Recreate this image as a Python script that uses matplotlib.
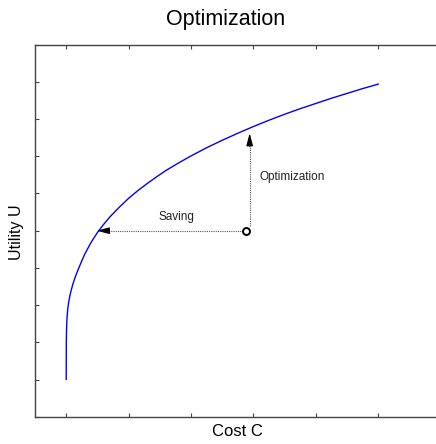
import matplotlib
matplotlib.use("Agg")
import matplotlib.pyplot as plt

plt.rcParams['font.family'] = ['Liberation Sans', 'DejaVu Sans']

# Curve data
cost = [0.0, 0.002, 0.005, 0.01, 0.015, 0.025, 0.04, 0.06, 0.08, 0.11, 0.15,
        0.2, 0.25, 0.3, 0.4, 0.5, 0.6, 0.7, 0.85, 1.0, 1.15, 1.3, 1.45, 1.6,
        1.8, 2.0, 2.25, 2.5, 2.75, 3.0, 3.25, 3.5, 3.75, 4.0, 4.25, 4.5, 4.75, 5.0]
utility = [1.0, 2.0, 2.3, 2.55, 2.7, 2.9, 3.08, 3.26, 3.40, 3.58, 3.78,
           3.99, 4.19, 4.38, 4.69, 4.95, 5.17, 5.37, 5.63, 5.87, 6.08, 6.27, 6.45, 6.62,
           6.82, 7.01, 7.23, 7.43, 7.62, 7.80, 7.97, 8.13, 8.28, 8.42, 8.56, 8.69, 8.82, 8.94]

# Current point and arrow targets
point_c, point_u = 2.9, 5.0
saving_tip_c = 0.49
optim_tip_u = 7.62

x_ticks = [0, 1, 2, 3, 4, 5]
y_ticks = [0, 1, 2, 3, 4, 5, 6, 7, 8, 9, 10]

W, H = 436, 444
fig = plt.figure(figsize=(W / 100, H / 100), dpi=100)
ax = fig.add_axes([35 / W, (H - 416.7) / H, (W - 35) / W, 372 / H])

ax.plot(cost, utility, color='#0000ff', lw=1.0)

# dotted arrow shafts
ax.plot([point_c - 0.07, saving_tip_c + 0.1], [point_u, point_u], color='#555555',
        lw=0.8, ls=(0, (1, 1)))
ax.plot([point_c + 0.04, point_c + 0.04], [point_u + 0.12, optim_tip_u - 0.3],
        color='#555555', lw=0.8, ls=(0, (1, 1)))
# arrowheads
ax.annotate('', xy=(saving_tip_c, point_u), xytext=(saving_tip_c + 0.2, point_u),
            arrowprops=dict(arrowstyle='-|>,head_length=0.75,head_width=0.2',
                            color='black', lw=0.8, shrinkA=0, shrinkB=0))
ax.annotate('', xy=(point_c + 0.04, optim_tip_u), xytext=(point_c + 0.04, optim_tip_u - 0.35),
            arrowprops=dict(arrowstyle='-|>,head_length=0.75,head_width=0.2',
                            color='black', lw=0.8, shrinkA=0, shrinkB=0))
ax.plot([point_c - 0.02], [point_u], marker='o', ms=5, mfc='white', mec='black', mew=1.4)

ax.text(1.76, 5.37, 'Saving', fontsize=8.5, ha='center', va='center', color='#222222')
ax.text(3.09, 6.45, 'Optimization', fontsize=8.5, ha='left', va='center', color='#222222')

ax.set_xlim(-0.5, 5.926)
ax.set_ylim(0, 10)
ax.set_xticks(x_ticks)
ax.set_yticks(y_ticks)
ax.tick_params(direction='in', length=3, width=0.8, top=True, right=False,
               labelbottom=False, labelleft=False, colors='#444444')
for s in ['left', 'top', 'bottom']:
    ax.spines[s].set_color('#444444')
    ax.spines[s].set_linewidth(1.0)
ax.spines['right'].set_visible(False)

fig.text(226 / W, 1 - 20 / H, 'Optimization', fontsize=15.5, ha='center', va='center')
fig.text(237.5 / W, 1 - 431 / H, 'Cost C', fontsize=12, ha='center', va='center')
fig.text(17 / W, 1 - 231.7 / H, 'Utility U', fontsize=11.5, ha='center', va='center',
         rotation=90)

fig.savefig('out.png', dpi=100)
